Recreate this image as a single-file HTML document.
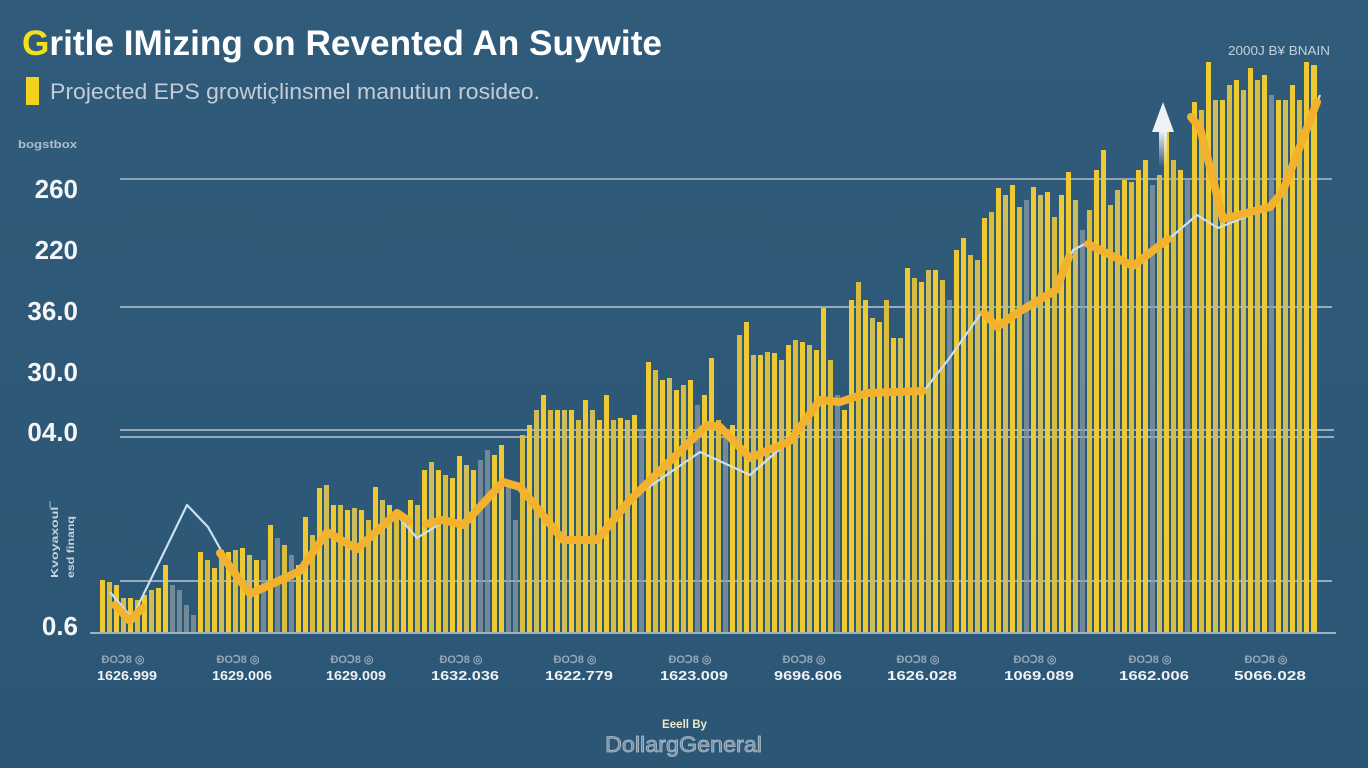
<!DOCTYPE html>
<html>
<head>
<meta charset="utf-8">
<style>
html,body{margin:0;padding:0;background:#2e5878;}
svg{display:block;}
text{font-family:"Liberation Sans",sans-serif;}
.y{fill:#eec932}
.m{fill:#d8bc3e}
.p{fill:#cdbd5c}
.g{fill:#8397a0;opacity:.8}
.yl{font-size:26px;font-weight:bold;fill:#f4f6f8;text-anchor:end}
.xs{font-size:11px;font-weight:bold;fill:#95a8b8;text-anchor:middle}
.xn{font-size:13px;font-weight:bold;fill:#eef2f6;text-anchor:middle}
</style>
</head>
<body>
<svg width="1368" height="768" viewBox="0 0 1368 768" xmlns="http://www.w3.org/2000/svg">
<defs>
<linearGradient id="bg" x1="0" y1="0" x2="0" y2="1">
<stop offset="0" stop-color="#305b7a"/>
<stop offset="1" stop-color="#2c5675"/>
</linearGradient>
<linearGradient id="arr" x1="0" y1="0" x2="0" y2="1">
<stop offset="0" stop-color="#eef2f4" stop-opacity="1"/>
<stop offset="1" stop-color="#eef2f4" stop-opacity="0"/>
</linearGradient>
</defs>
<rect width="1368" height="768" fill="url(#bg)"/>

<!-- Title -->
<text x="22" y="55" font-size="35" font-weight="bold" fill="#ffffff" textLength="640" lengthAdjust="spacingAndGlyphs"><tspan fill="#f3e01c">G</tspan>ritle IMizing on Revented An Suywite</text>
<rect x="26" y="77" width="13" height="28" fill="#f2d21a"/>
<text x="50" y="99" font-size="22" fill="#c3ccd4" textLength="490" lengthAdjust="spacingAndGlyphs">Projected EPS growtiçlinsmel manutiun rosideo.</text>
<text x="18" y="148" font-size="11" font-weight="bold" fill="#aebdca" textLength="59" lengthAdjust="spacingAndGlyphs">bogstbox</text>
<text x="1228" y="55" font-size="13" fill="#c5d0da" textLength="102" lengthAdjust="spacingAndGlyphs">2000J B¥ BNAIN</text>

<!-- Y labels -->
<text class="yl" x="78" y="198">260</text>
<text class="yl" x="78" y="259">220</text>
<text class="yl" x="78" y="320">36.0</text>
<text class="yl" x="78" y="381">30.0</text>
<text class="yl" x="78" y="441">04.0</text>
<text class="yl" x="78" y="635">0.6</text>
<text x="0" y="0" font-size="10" font-weight="bold" fill="#c8d2dc" transform="translate(58,578) rotate(-90)" textLength="76" lengthAdjust="spacingAndGlyphs">Kvoyaxoul‾</text>
<text x="0" y="0" font-size="10" font-weight="bold" fill="#c8d2dc" transform="translate(74,578) rotate(-90)" textLength="62" lengthAdjust="spacingAndGlyphs">esd finanq</text>

<!-- Gridlines behind -->
<g stroke="#8fa4b4" stroke-width="2">
<line x1="120" y1="179" x2="1332" y2="179"/>
<line x1="120" y1="307" x2="1332" y2="307"/>
<line x1="120" y1="430" x2="1334" y2="430"/>
<line x1="120" y1="437" x2="1334" y2="437"/>
<line x1="120" y1="581" x2="1332" y2="581"/>
</g>

<!-- Bars -->
<g>
<rect class="y" x="100" y="580" width="5" height="53"/>
<rect class="m" x="107" y="582" width="5" height="51"/>
<rect class="y" x="114" y="585" width="5" height="48"/>
<rect class="p" x="121" y="598" width="5" height="35"/>
<rect class="y" x="128" y="598" width="5" height="35"/>
<rect class="m" x="135" y="600" width="5" height="33"/>
<rect class="y" x="142" y="595" width="5" height="38"/>
<rect class="p" x="149" y="590" width="5" height="43"/>
<rect class="y" x="156" y="588" width="5" height="45"/>
<rect class="y" x="163" y="565" width="5" height="68"/>
<rect class="g" x="170" y="585" width="5" height="48"/>
<rect class="g" x="177" y="590" width="5" height="43"/>
<rect class="g" x="184" y="605" width="5" height="28"/>
<rect class="g" x="191" y="615" width="5" height="18"/>
<rect class="y" x="198" y="552" width="5" height="81"/>
<rect class="m" x="205" y="560" width="5" height="73"/>
<rect class="y" x="212" y="568" width="5" height="65"/>
<rect class="p" x="219" y="550" width="5" height="83"/>
<rect class="y" x="226" y="552" width="5" height="81"/>
<rect class="m" x="233" y="550" width="5" height="83"/>
<rect class="y" x="240" y="548" width="5" height="85"/>
<rect class="p" x="247" y="555" width="5" height="78"/>
<rect class="y" x="254" y="560" width="5" height="73"/>
<rect class="g" x="261" y="560" width="5" height="73"/>
<rect class="y" x="268" y="525" width="5" height="108"/>
<rect class="g" x="275" y="538" width="5" height="95"/>
<rect class="m" x="282" y="545" width="5" height="88"/>
<rect class="g" x="289" y="555" width="5" height="78"/>
<rect class="y" x="296" y="565" width="5" height="68"/>
<rect class="y" x="303" y="517" width="5" height="116"/>
<rect class="m" x="310" y="535" width="5" height="98"/>
<rect class="y" x="317" y="488" width="5" height="145"/>
<rect class="p" x="324" y="485" width="5" height="148"/>
<rect class="y" x="331" y="505" width="5" height="128"/>
<rect class="m" x="338" y="505" width="5" height="128"/>
<rect class="y" x="345" y="510" width="5" height="123"/>
<rect class="p" x="352" y="508" width="5" height="125"/>
<rect class="y" x="359" y="510" width="5" height="123"/>
<rect class="m" x="366" y="520" width="5" height="113"/>
<rect class="y" x="373" y="487" width="5" height="146"/>
<rect class="p" x="380" y="500" width="5" height="133"/>
<rect class="y" x="387" y="505" width="5" height="128"/>
<rect class="m" x="394" y="515" width="5" height="118"/>
<rect class="y" x="401" y="518" width="5" height="115"/>
<rect class="y" x="408" y="500" width="5" height="133"/>
<rect class="m" x="415" y="505" width="5" height="128"/>
<rect class="y" x="422" y="470" width="5" height="163"/>
<rect class="p" x="429" y="462" width="5" height="171"/>
<rect class="y" x="436" y="470" width="5" height="163"/>
<rect class="m" x="443" y="475" width="5" height="158"/>
<rect class="y" x="450" y="478" width="5" height="155"/>
<rect class="y" x="457" y="456" width="5" height="177"/>
<rect class="p" x="464" y="465" width="5" height="168"/>
<rect class="y" x="471" y="470" width="5" height="163"/>
<rect class="g" x="478" y="460" width="5" height="173"/>
<rect class="g" x="485" y="450" width="5" height="183"/>
<rect class="y" x="492" y="455" width="5" height="178"/>
<rect class="y" x="499" y="445" width="5" height="188"/>
<rect class="g" x="506" y="480" width="5" height="153"/>
<rect class="g" x="513" y="520" width="5" height="113"/>
<rect class="m" x="520" y="435" width="5" height="198"/>
<rect class="y" x="527" y="425" width="5" height="208"/>
<rect class="p" x="534" y="410" width="5" height="223"/>
<rect class="y" x="541" y="395" width="5" height="238"/>
<rect class="m" x="548" y="410" width="5" height="223"/>
<rect class="y" x="555" y="410" width="5" height="223"/>
<rect class="p" x="562" y="410" width="5" height="223"/>
<rect class="y" x="569" y="410" width="5" height="223"/>
<rect class="m" x="576" y="420" width="5" height="213"/>
<rect class="y" x="583" y="400" width="5" height="233"/>
<rect class="p" x="590" y="410" width="5" height="223"/>
<rect class="y" x="597" y="420" width="5" height="213"/>
<rect class="y" x="604" y="395" width="5" height="238"/>
<rect class="m" x="611" y="420" width="5" height="213"/>
<rect class="y" x="618" y="418" width="5" height="215"/>
<rect class="p" x="625" y="420" width="5" height="213"/>
<rect class="y" x="632" y="415" width="5" height="218"/>
<rect class="g" x="639" y="430" width="5" height="203"/>
<rect class="y" x="646" y="362" width="5" height="271"/>
<rect class="m" x="653" y="370" width="5" height="263"/>
<rect class="y" x="660" y="380" width="5" height="253"/>
<rect class="p" x="667" y="378" width="5" height="255"/>
<rect class="y" x="674" y="390" width="5" height="243"/>
<rect class="m" x="681" y="385" width="5" height="248"/>
<rect class="y" x="688" y="380" width="5" height="253"/>
<rect class="g" x="695" y="405" width="5" height="228"/>
<rect class="y" x="702" y="395" width="5" height="238"/>
<rect class="y" x="709" y="358" width="5" height="275"/>
<rect class="m" x="716" y="420" width="5" height="213"/>
<rect class="g" x="723" y="435" width="5" height="198"/>
<rect class="y" x="730" y="425" width="5" height="208"/>
<rect class="m" x="737" y="335" width="5" height="298"/>
<rect class="y" x="744" y="322" width="5" height="311"/>
<rect class="p" x="751" y="355" width="5" height="278"/>
<rect class="y" x="758" y="355" width="5" height="278"/>
<rect class="m" x="765" y="352" width="5" height="281"/>
<rect class="y" x="772" y="353" width="5" height="280"/>
<rect class="p" x="779" y="360" width="5" height="273"/>
<rect class="y" x="786" y="345" width="5" height="288"/>
<rect class="m" x="793" y="340" width="5" height="293"/>
<rect class="y" x="800" y="342" width="5" height="291"/>
<rect class="p" x="807" y="345" width="5" height="288"/>
<rect class="y" x="814" y="350" width="5" height="283"/>
<rect class="y" x="821" y="308" width="5" height="325"/>
<rect class="m" x="828" y="360" width="5" height="273"/>
<rect class="g" x="835" y="395" width="5" height="238"/>
<rect class="y" x="842" y="410" width="5" height="223"/>
<rect class="y" x="849" y="300" width="5" height="333"/>
<rect class="m" x="856" y="282" width="5" height="351"/>
<rect class="y" x="863" y="300" width="5" height="333"/>
<rect class="p" x="870" y="318" width="5" height="315"/>
<rect class="y" x="877" y="322" width="5" height="311"/>
<rect class="m" x="884" y="300" width="5" height="333"/>
<rect class="y" x="891" y="338" width="5" height="295"/>
<rect class="p" x="898" y="338" width="5" height="295"/>
<rect class="y" x="905" y="268" width="5" height="365"/>
<rect class="m" x="912" y="278" width="5" height="355"/>
<rect class="y" x="919" y="282" width="5" height="351"/>
<rect class="p" x="926" y="270" width="5" height="363"/>
<rect class="y" x="933" y="270" width="5" height="363"/>
<rect class="m" x="940" y="280" width="5" height="353"/>
<rect class="g" x="947" y="300" width="5" height="333"/>
<rect class="y" x="954" y="250" width="5" height="383"/>
<rect class="y" x="961" y="238" width="5" height="395"/>
<rect class="m" x="968" y="255" width="5" height="378"/>
<rect class="p" x="975" y="260" width="5" height="373"/>
<rect class="y" x="982" y="218" width="5" height="415"/>
<rect class="m" x="989" y="212" width="5" height="421"/>
<rect class="y" x="996" y="188" width="5" height="445"/>
<rect class="p" x="1003" y="195" width="5" height="438"/>
<rect class="y" x="1010" y="185" width="5" height="448"/>
<rect class="m" x="1017" y="207" width="5" height="426"/>
<rect class="g" x="1024" y="200" width="5" height="433"/>
<rect class="y" x="1031" y="187" width="5" height="446"/>
<rect class="p" x="1038" y="195" width="5" height="438"/>
<rect class="y" x="1045" y="192" width="5" height="441"/>
<rect class="m" x="1052" y="217" width="5" height="416"/>
<rect class="y" x="1059" y="195" width="5" height="438"/>
<rect class="y" x="1066" y="172" width="5" height="461"/>
<rect class="p" x="1073" y="200" width="5" height="433"/>
<rect class="g" x="1080" y="230" width="5" height="403"/>
<rect class="m" x="1087" y="210" width="5" height="423"/>
<rect class="y" x="1094" y="170" width="5" height="463"/>
<rect class="y" x="1101" y="150" width="5" height="483"/>
<rect class="m" x="1108" y="205" width="5" height="428"/>
<rect class="p" x="1115" y="190" width="5" height="443"/>
<rect class="y" x="1122" y="180" width="5" height="453"/>
<rect class="m" x="1129" y="182" width="5" height="451"/>
<rect class="y" x="1136" y="170" width="5" height="463"/>
<rect class="y" x="1143" y="160" width="5" height="473"/>
<rect class="g" x="1150" y="185" width="5" height="448"/>
<rect class="p" x="1157" y="175" width="5" height="458"/>
<rect class="y" x="1164" y="130" width="5" height="503"/>
<rect class="m" x="1171" y="160" width="5" height="473"/>
<rect class="y" x="1178" y="170" width="5" height="463"/>
<rect class="g" x="1185" y="180" width="5" height="453"/>
<rect class="y" x="1192" y="102" width="5" height="531"/>
<rect class="m" x="1199" y="110" width="5" height="523"/>
<rect class="y" x="1206" y="62" width="5" height="571"/>
<rect class="p" x="1213" y="100" width="5" height="533"/>
<rect class="y" x="1220" y="100" width="5" height="533"/>
<rect class="m" x="1227" y="85" width="5" height="548"/>
<rect class="y" x="1234" y="80" width="5" height="553"/>
<rect class="p" x="1241" y="90" width="5" height="543"/>
<rect class="y" x="1248" y="68" width="5" height="565"/>
<rect class="m" x="1255" y="80" width="5" height="553"/>
<rect class="y" x="1262" y="75" width="5" height="558"/>
<rect class="g" x="1269" y="95" width="5" height="538"/>
<rect class="y" x="1276" y="100" width="5" height="533"/>
<rect class="p" x="1283" y="100" width="5" height="533"/>
<rect class="y" x="1290" y="85" width="5" height="548"/>
<rect class="m" x="1297" y="100" width="5" height="533"/>
<rect class="y" x="1304" y="62" width="5" height="571"/>
<rect class="y" x="1311" y="65" width="6" height="568"/>
</g>

<!-- faint gridlines over bars -->
<g stroke="#b8c6d0" stroke-width="2" opacity="0.18">
<line x1="120" y1="307" x2="1332" y2="307"/>
<line x1="120" y1="430" x2="1334" y2="430"/>
<line x1="120" y1="437" x2="1334" y2="437"/>
<line x1="120" y1="581" x2="1332" y2="581"/>
</g>

<!-- Baseline -->
<line x1="90" y1="633" x2="1336" y2="633" stroke="#9fb1bf" stroke-width="2"/>

<!-- Arrow -->
<rect x="1159" y="131" width="8" height="36" fill="url(#arr)"/>
<polygon points="1163,102 1174,132 1152,132" fill="#eef2f4"/>

<!-- thin light line -->
<polyline fill="none" stroke="#c9e1f2" stroke-width="2.2" stroke-linejoin="round" points="110,592 132,618 187,505 208,527 222,552 250,597 300,573 327,532 357,550 397,515 417,538 443,522 463,527 503,480 520,485 560,540 597,542 630,500 700,452 750,475 790,440 820,400 840,403 867,393 923,392 948,360 982,312 997,328 1017,313 1056,290 1073,250 1087,243 1133,267 1170,238 1197,215 1218,228 1270,207 1283,190 1320,95"/>

<!-- thick orange line -->
<g fill="none" stroke="#f3b22e" stroke-width="8" stroke-linejoin="round" stroke-linecap="round">
<polyline points="115,605 130,621 142,608"/>
<polyline points="220,553 250,594 300,571 327,532 357,549 397,513 409,521"/>
<polyline points="426,524 443,520 463,525 503,482 520,487 563,540 597,540 630,500 707,425 720,427 750,458 790,441 820,400 840,402 867,393 923,391"/>
<polyline points="984,313 997,327 1017,313 1056,290 1069,257"/>
<polyline points="1088,244 1133,266 1168,239"/>
<polyline points="1191,117 1200,128 1223,219 1270,207 1283,191 1317,102"/>
</g>

<!-- X labels -->
<text class="xs" x="123" y="663">ÐOↃ8 ◎</text>
<text class="xn" x="127" y="680" textLength="60" lengthAdjust="spacingAndGlyphs">1626.999</text>
<text class="xs" x="238" y="663">ÐOↃ8 ◎</text>
<text class="xn" x="242" y="680" textLength="60" lengthAdjust="spacingAndGlyphs">1629.006</text>
<text class="xs" x="352" y="663">ÐOↃ8 ◎</text>
<text class="xn" x="356" y="680" textLength="60" lengthAdjust="spacingAndGlyphs">1629.009</text>
<text class="xs" x="461" y="663">ÐOↃ8 ◎</text>
<text class="xn" x="465" y="680" textLength="68" lengthAdjust="spacingAndGlyphs">1632.036</text>
<text class="xs" x="575" y="663">ÐOↃ8 ◎</text>
<text class="xn" x="579" y="680" textLength="68" lengthAdjust="spacingAndGlyphs">1622.779</text>
<text class="xs" x="690" y="663">ÐOↃ8 ◎</text>
<text class="xn" x="694" y="680" textLength="68" lengthAdjust="spacingAndGlyphs">1623.009</text>
<text class="xs" x="804" y="663">ÐOↃ8 ◎</text>
<text class="xn" x="808" y="680" textLength="68" lengthAdjust="spacingAndGlyphs">9696.606</text>
<text class="xs" x="918" y="663">ÐOↃ8 ◎</text>
<text class="xn" x="922" y="680" textLength="70" lengthAdjust="spacingAndGlyphs">1626.028</text>
<text class="xs" x="1035" y="663">ÐOↃ8 ◎</text>
<text class="xn" x="1039" y="680" textLength="70" lengthAdjust="spacingAndGlyphs">1069.089</text>
<text class="xs" x="1150" y="663">ÐOↃ8 ◎</text>
<text class="xn" x="1154" y="680" textLength="70" lengthAdjust="spacingAndGlyphs">1662.006</text>
<text class="xs" x="1266" y="663">ÐOↃ8 ◎</text>
<text class="xn" x="1270" y="680" textLength="72" lengthAdjust="spacingAndGlyphs">5066.028</text>

<!-- Footer -->
<text x="662" y="728" font-size="12" font-weight="bold" fill="#ece8c8" textLength="45" lengthAdjust="spacingAndGlyphs">Eeell By</text>
<text x="605" y="752" font-size="22" fill="#6f89a0" stroke="#aebecb" stroke-width="0.8" textLength="157" lengthAdjust="spacingAndGlyphs">DollargGeneral</text>
</svg>
</body>
</html>
